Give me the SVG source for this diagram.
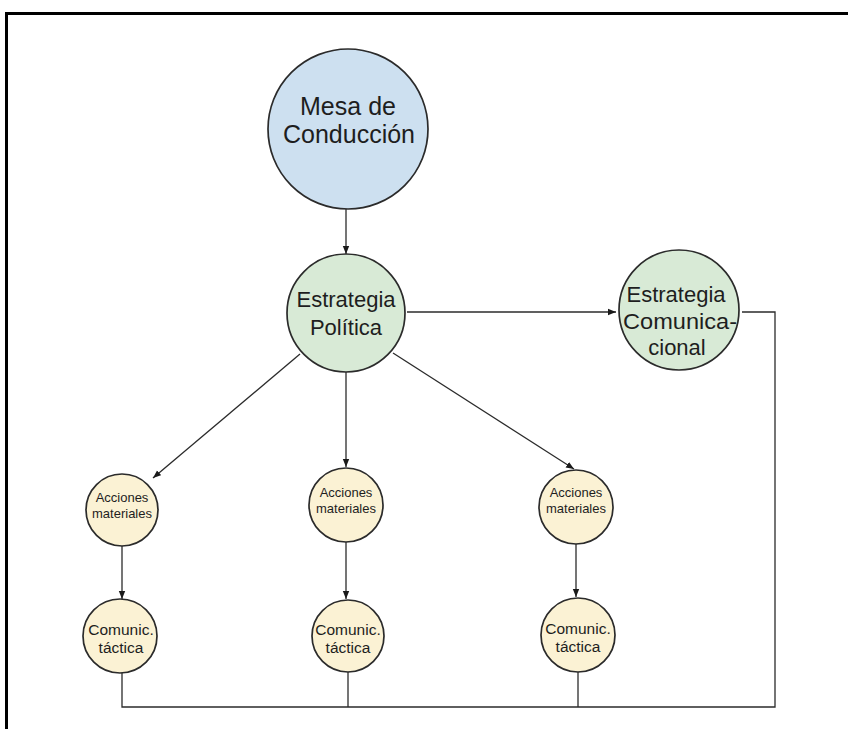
<svg xmlns="http://www.w3.org/2000/svg" width="848" height="729" viewBox="0 0 848 729">
<style>
.c{stroke:#2b2b2b;stroke-width:1.7}
.blue{fill:#cde0f0}
.green{fill:#d8ead6}
.yel{fill:#fbf2d4}
.t{font-family:"Liberation Sans",Arial,sans-serif;fill:#1e1e1e;text-anchor:middle}
.big{font-size:25px}
.mid{font-size:22px}
.sm{font-size:13px}
.ct{font-size:15.5px}
.l{fill:none;stroke:#2b2b2b;stroke-width:1.3}
</style>
<defs>
<marker id="ah" viewBox="0 0 10 10" refX="10" refY="5" markerWidth="8" markerHeight="8" markerUnits="userSpaceOnUse" orient="auto">
<path d="M0,1 L10,5 L0,9 Z" fill="#1a1a1a"/>
</marker>
</defs>
<rect x="0" y="0" width="848" height="729" fill="#fff"/>
<path d="M6.5,729 V13.5 H848" fill="none" stroke="#000" stroke-width="3"/>

<g id="connectors">
<line class="l" x1="346" y1="209" x2="346" y2="254" marker-end="url(#ah)"/>
<line class="l" x1="407" y1="312" x2="616" y2="312" marker-end="url(#ah)"/>
<line class="l" x1="300" y1="354" x2="153" y2="478" marker-end="url(#ah)"/>
<line class="l" x1="346" y1="372" x2="346" y2="467" marker-end="url(#ah)"/>
<line class="l" x1="393" y1="353" x2="574" y2="469" marker-end="url(#ah)"/>
<line class="l" x1="122" y1="546" x2="122" y2="599" marker-end="url(#ah)"/>
<line class="l" x1="346" y1="542" x2="346" y2="599" marker-end="url(#ah)"/>
<line class="l" x1="576" y1="544" x2="576" y2="597" marker-end="url(#ah)"/>
<polyline class="l" points="742,312 775,312 775,707 122,707 122,673"/>
<line class="l" x1="348" y1="672" x2="348" y2="707"/>
<line class="l" x1="578" y1="672" x2="578" y2="707"/>
</g>

<g id="mesa">
<circle class="c blue" cx="348" cy="129" r="80"/>
<text class="t big" x="348" y="115">Mesa de</text>
<text class="t big" x="349" y="143">Conducción</text>
</g>

<g id="estrategia-politica">
<circle class="c green" cx="346" cy="313" r="59"/>
<text class="t mid" x="346" y="307">Estrategia</text>
<text class="t mid" x="346" y="335">Política</text>
</g>

<g id="estrategia-comunicacional">
<circle class="c green" cx="679" cy="310" r="60"/>
<text class="t mid" x="676" y="302">Estrategia</text>
<text class="t mid" x="680" y="329" textLength="114" lengthAdjust="spacingAndGlyphs">Comunica-</text>
<text class="t mid" x="677" y="355">cional</text>
</g>

<g id="acciones-1">
<circle class="c yel" cx="122" cy="510" r="36"/>
<text class="t sm" x="122" y="502">Acciones</text>
<text class="t sm" x="122" y="518">materiales</text>
</g>
<g id="acciones-2">
<circle class="c yel" cx="346" cy="505" r="37"/>
<text class="t sm" x="346" y="497">Acciones</text>
<text class="t sm" x="346" y="513">materiales</text>
</g>
<g id="acciones-3">
<circle class="c yel" cx="576" cy="507" r="37"/>
<text class="t sm" x="576" y="497">Acciones</text>
<text class="t sm" x="576" y="513">materiales</text>
</g>

<g id="comunic-1">
<circle class="c yel" cx="120" cy="636" r="37"/>
<text class="t ct" x="121" y="635">Comunic.</text>
<text class="t ct" x="121" y="653">táctica</text>
</g>
<g id="comunic-2">
<circle class="c yel" cx="348" cy="636" r="36"/>
<text class="t ct" x="348" y="635">Comunic.</text>
<text class="t ct" x="348" y="653">táctica</text>
</g>
<g id="comunic-3">
<circle class="c yel" cx="578" cy="635" r="37"/>
<text class="t ct" x="578" y="634">Comunic.</text>
<text class="t ct" x="578" y="652">táctica</text>
</g>
</svg>
